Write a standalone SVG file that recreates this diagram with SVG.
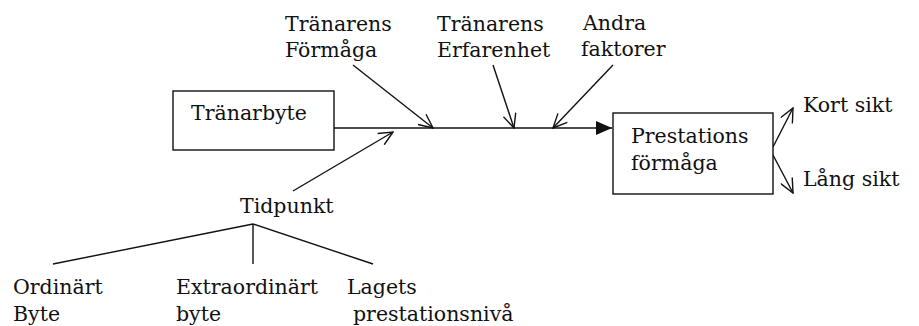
<svg xmlns="http://www.w3.org/2000/svg" width="919" height="326" viewBox="0 0 919 326">
<style>
text{font-family:"DejaVu Serif","Liberation Serif",serif;font-size:20.5px;fill:#111}
.ln{stroke:#111;stroke-width:1.4;fill:none}
.box{stroke:#111;stroke-width:1.4;fill:#fff}
</style>
<defs>
<marker id="open" viewBox="0 0 16 14" refX="15" refY="7" markerWidth="16" markerHeight="14" markerUnits="userSpaceOnUse" orient="auto">
<path d="M1,0.5 L15,7 L1,13.5" fill="none" stroke="#111" stroke-width="1.4"/>
</marker>
<marker id="solid" viewBox="0 0 16 14" refX="16" refY="7" markerWidth="16" markerHeight="14" markerUnits="userSpaceOnUse" orient="auto">
<path d="M0,0 L16,7 L0,14 Z" fill="#111"/>
</marker>
</defs>
<g id="connectors">
<line class="ln" x1="334" y1="128" x2="612" y2="128" marker-end="url(#solid)"/>
<line class="ln" x1="353" y1="65" x2="433" y2="128" marker-end="url(#open)"/>
<line class="ln" x1="493" y1="65" x2="514" y2="128" marker-end="url(#open)"/>
<line class="ln" x1="613" y1="65" x2="553" y2="128" marker-end="url(#open)"/>
<line class="ln" x1="293" y1="191" x2="393" y2="132" marker-end="url(#open)"/>
<line class="ln" x1="773" y1="147" x2="793" y2="108" marker-end="url(#open)"/>
<line class="ln" x1="773" y1="155" x2="793" y2="193" marker-end="url(#open)"/>
<line class="ln" x1="253" y1="224" x2="53" y2="264"/>
<line class="ln" x1="253" y1="224" x2="253" y2="264"/>
<line class="ln" x1="253" y1="224" x2="373" y2="264"/>
</g>
<g id="tranarbyte">
<rect class="box" x="173" y="91" width="161" height="59"/>
<text x="191" y="120">Tränarbyte</text>
</g>
<g id="prestation">
<rect class="box" x="613" y="113" width="160" height="81"/>
<text x="631" y="143">Prestations</text>
<text x="631" y="170">förmåga</text>
</g>
<g id="formaga">
<text x="285" y="31">Tränarens</text>
<text x="285" y="57">Förmåga</text>
</g>
<g id="erfarenhet">
<text x="437" y="31">Tränarens</text>
<text x="437" y="57">Erfarenhet</text>
</g>
<g id="andra">
<text x="583" y="30">Andra</text>
<text x="581" y="56">faktorer</text>
</g>
<g id="kort"><text x="803" y="112">Kort sikt</text></g>
<g id="lang"><text x="803" y="186">Lång sikt</text></g>
<g id="tidpunkt"><text x="240" y="213">Tidpunkt</text></g>
<g id="ordinart">
<text x="13" y="294">Ordinärt</text>
<text x="13" y="321">Byte</text>
</g>
<g id="extra">
<text x="176" y="294">Extraordinärt</text>
<text x="176" y="321">byte</text>
</g>
<g id="lagets">
<text x="347" y="294">Lagets</text>
<text x="353" y="321">prestationsnivå</text>
</g>
</svg>
